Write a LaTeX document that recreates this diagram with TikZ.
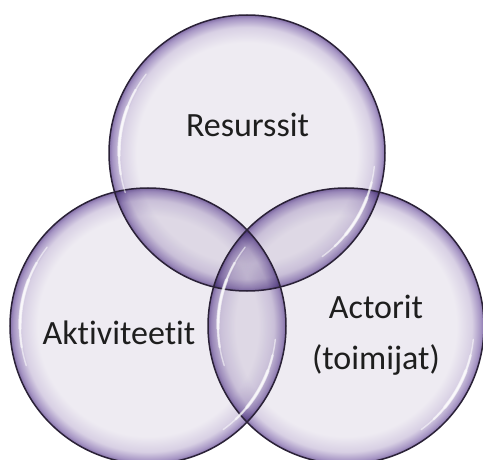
\documentclass[tikz,border=0pt]{standalone}
\usepackage{fontspec}
\setmainfont{Carlito}[Ligatures={NoCommon}]
\usetikzlibrary{calc}

\definecolor{bubIn}{HTML}{EEEBF2}
\definecolor{bubMid}{HTML}{D8D0E4}
\definecolor{bubRim}{HTML}{A695C4}
\definecolor{bubEdge}{HTML}{8470A8}
\definecolor{bubLine}{HTML}{2A2137}
\definecolor{labelInk}{HTML}{1E1E1E}

% radial profile of one bubble: flat centre, purple rim (25bp = edge)
\pgfdeclareradialshading{bubble}{\pgfpointorigin}{%
  color(0bp)=(bubIn); color(20bp)=(bubIn); color(22.8bp)=(bubMid);
  color(24.4bp)=(bubRim); color(25bp)=(bubEdge); color(50bp)=(bubEdge)}

\tikzset{
  bubblefill/.style={shading=bubble, blend mode=multiply},
  bubbleline/.style={draw=bubLine, line width=1.5pt},
  gloss/.style={draw=white, line cap=round, opacity=.55},
  caption/.style={font=\fontsize{34}{40}\selectfont, text=labelInk, inner sep=0pt, anchor=base}
}

% soft white gloss arc inside a bubble: centre, radius, mid angle, half span
\newcommand\glossarc[4]{%
  \foreach \f/\w in {1/1.4, .7/2.4, .4/3.4}{%
    \draw[gloss, line width=\w pt] ($(#1)+({#3-\f*#4}:#2)$)
      arc[start angle={#3-\f*#4}, end angle={#3+\f*#4}, radius=#2];
  }%
}

\begin{document}
\begin{tikzpicture}[x=1pt, y=1pt]
  \useasboundingbox (0,0) rectangle (483,459);
  \clip (0,0) rectangle (483,459);
  \fill[white] (0,0) rectangle (483,459);

  \coordinate (res) at (247,306);
  \coordinate (akt) at (148,133);
  \coordinate (act) at (346,133);
  \def\R{138}

  % translucent bubbles
  \foreach \c in {res, akt, act}{
    \shade[bubblefill] (\c) circle (\R);
  }
  % outlines
  \foreach \c in {res, akt, act}{
    \draw[bubbleline] (\c) circle (\R);
  }
  % gloss highlights
  \foreach \c in {res, akt, act}{
    \glossarc{\c}{128}{170}{28}
    \glossarc{\c}{128}{-30}{24}
  }

  \node[caption] (tres) at (247.5,322) {Resurssit};
  \node[caption] (takt) at (119,114) {Aktiviteetit};
  \node[caption] (tact1) at (376,141) {Actorit};
  \node[caption] (tact2) at (376,89) {(toimijat)};
\end{tikzpicture}
\end{document}
